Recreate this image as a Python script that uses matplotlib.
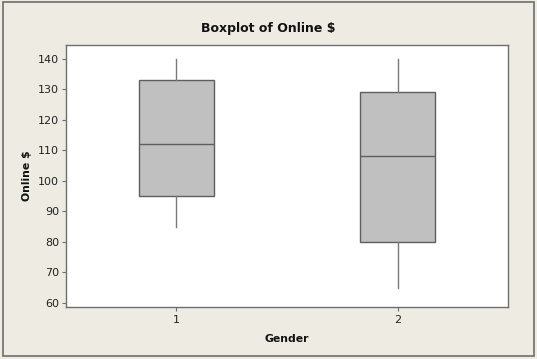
import matplotlib
matplotlib.use('Agg')
from matplotlib import pyplot as plt
from matplotlib.patches import Rectangle

# values
genders = ['1', '2']
q1 = [95, 80]
median = [112, 108]
q3 = [133, 129]
whisker_low = [85, 65]
whisker_high = [140, 140]

y_ticks = [60, 70, 80, 90, 100, 110, 120, 130, 140]

bg = '#EEEBE3'
edge = '#5F5F5F'

stats = []
for i in range(len(genders)):
    stats.append({'label': genders[i], 'q1': q1[i], 'med': median[i], 'q3': q3[i],
                  'whislo': whisker_low[i], 'whishi': whisker_high[i], 'fliers': []})

my_dpi = 100
fig = plt.figure(figsize=(537/my_dpi, 359/my_dpi), dpi=my_dpi, facecolor=bg)
plt.rcParams['font.family'] = ['DejaVu Sans']

# frame round the whole figure
fig.patches.append(Rectangle((0.005, 0.008), 0.989, 0.986, transform=fig.transFigure,
                             fill=False, edgecolor='#6E6E6E', linewidth=1.2))

ax = fig.add_axes([0.1229, 0.1448, 0.8231, 0.7312])
ax.set_facecolor('white')

ax.bxp(stats, positions=[1, 2], widths=0.336, patch_artist=True, showcaps=False,
       boxprops=dict(facecolor='#C0C0C0', edgecolor=edge, linewidth=1.0),
       medianprops=dict(color=edge, linewidth=1.0),
       whiskerprops=dict(color='#7A7A7A', linewidth=1.0))

ax.set_xlim(0.5, 2.5)
ax.set_ylim(58.7, 144.6)
ax.set_yticks(y_ticks)
ax.set_xticks([1, 2])
ax.set_xticklabels(genders)

for sp in ax.spines.values():
    sp.set_color('#6E6E6E')
    sp.set_linewidth(1.0)

ax.tick_params(axis='both', direction='out', length=3, width=0.8, color='#6E6E6E',
               labelsize=8, pad=2, labelcolor='#222222')
ax.tick_params(axis='x', pad=3)

ax.set_xlabel('Gender', fontsize=7.8, fontweight='bold', labelpad=6, color='#111111')
ax.set_ylabel('Online $', fontsize=7.8, fontweight='bold', labelpad=4, color='#111111')
fig.text(0.5, 0.921, 'Boxplot of Online $', ha='center', va='center',
         fontsize=9, fontweight='bold', color='#111111')

plt.savefig('out.png', dpi=my_dpi, facecolor=bg)
